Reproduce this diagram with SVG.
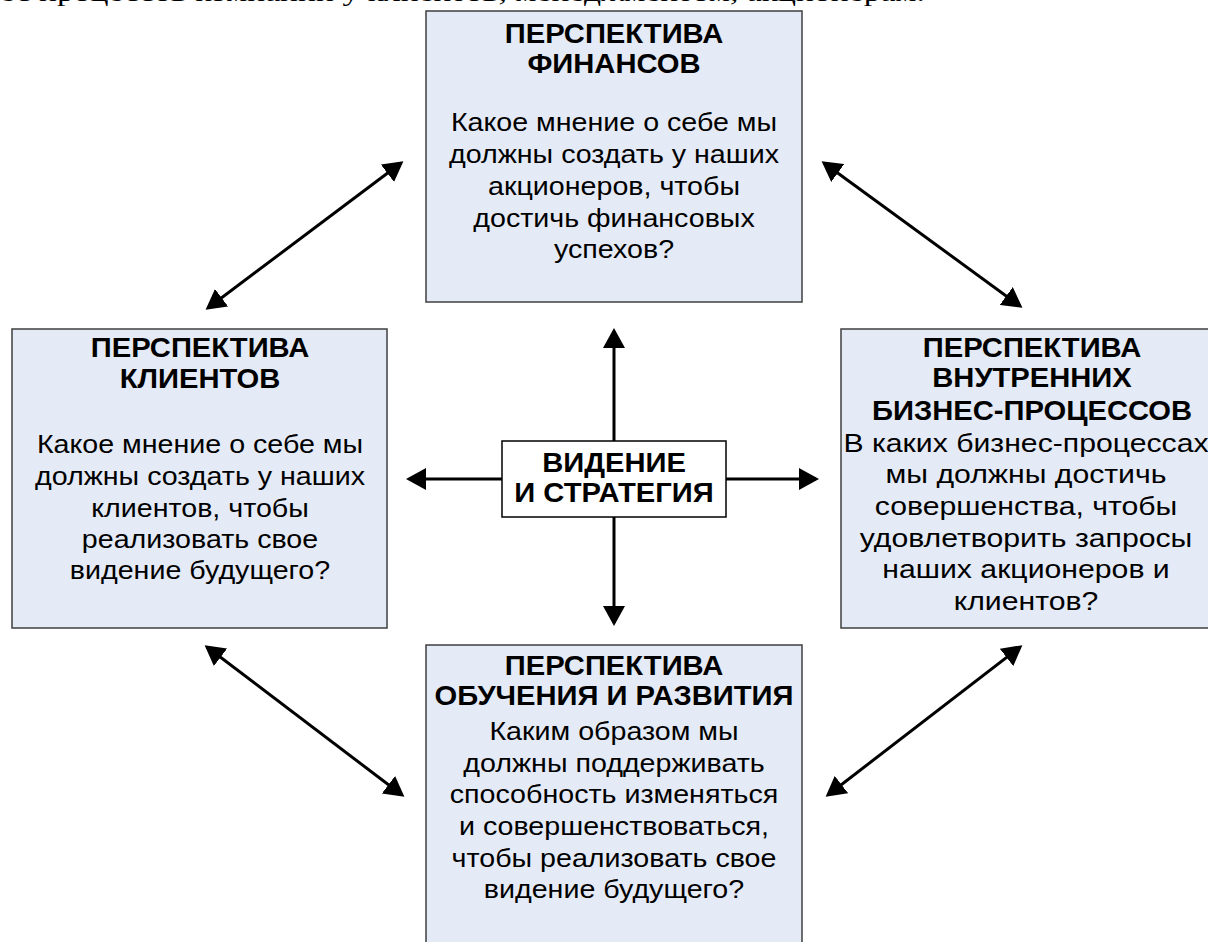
<svg xmlns="http://www.w3.org/2000/svg" width="1208" height="942" viewBox="0 0 1208 942">
  <style>
    .box { fill: #E5EBF6; stroke: #3F3F3F; stroke-width: 1.5; }
    .core { fill: #FFFFFF; stroke: #000000; stroke-width: 1.5; }
    .title { font-family: "Liberation Sans", Arial, sans-serif; font-weight: bold; font-size: 27px; fill: #000; text-anchor: middle; }
    .body { font-family: "Liberation Sans", Arial, sans-serif; font-size: 26.5px; fill: #000; text-anchor: middle; }
    .page { font-family: "Liberation Serif", "Times New Roman", serif; font-size: 25px; fill: #000; }
    .link { stroke: #000; stroke-width: 3; fill: none; marker-start: url(#head); marker-end: url(#head); }
    .ray { stroke: #000; stroke-width: 3; fill: none; marker-end: url(#head); }
  </style>
  <defs>
    <marker id="head" markerUnits="userSpaceOnUse" viewBox="0 0 20 22" refX="17" refY="11" markerWidth="20" markerHeight="22" orient="auto-start-reverse">
      <path d="M0,0 L20,11 L0,22 Z" fill="#000"/>
    </marker>
  </defs>

  <rect width="1208" height="942" fill="#FFFFFF"/>

  <!-- trailing line of the page text above the figure -->
  <text class="page" x="0" y="1" textLength="925" lengthAdjust="spacingAndGlyphs">ес процессов компании у клиентов, менеджментом, акционерам.</text>

  <!-- connectors -->
  <g id="connectors">
    <line class="ray" x1="614" y1="441" x2="614" y2="331"/>
    <line class="ray" x1="614" y1="517" x2="614" y2="623"/>
    <line class="ray" x1="502" y1="479" x2="409" y2="479"/>
    <line class="ray" x1="726" y1="479" x2="816" y2="479"/>
    <line class="link" x1="208" y1="308" x2="401" y2="163"/>
    <line class="link" x1="824" y1="163" x2="1020" y2="306"/>
    <line class="link" x1="207" y1="647" x2="402" y2="795"/>
    <line class="link" x1="1020" y1="647" x2="828" y2="795"/>
  </g>

  <!-- finance perspective -->
  <g id="finance">
    <rect class="box" x="426" y="11" width="376" height="291"/>
    <g transform="translate(614,0) scale(1.08,1)">
      <text class="title" x="0" y="43">ПЕРСПЕКТИВА</text>
      <text class="title" x="0" y="73">ФИНАНСОВ</text>
      <text class="body" x="0" y="131">Какое мнение о себе мы</text>
      <text class="body" x="0" y="163">должны создать у наших</text>
      <text class="body" x="0" y="195">акционеров, чтобы</text>
      <text class="body" x="0" y="227">достичь финансовых</text>
      <text class="body" x="0" y="258">успехов?</text>
    </g>
  </g>

  <!-- customer perspective -->
  <g id="customers">
    <rect class="box" x="12" y="329" width="375" height="299"/>
    <g transform="translate(200,0) scale(1.08,1)">
      <text class="title" x="0" y="357">ПЕРСПЕКТИВА</text>
      <text class="title" x="0" y="388">КЛИЕНТОВ</text>
      <text class="body" x="0" y="453">Какое мнение о себе мы</text>
      <text class="body" x="0" y="485">должны создать у наших</text>
      <text class="body" x="0" y="517">клиентов, чтобы</text>
      <text class="body" x="0" y="548">реализовать свое</text>
      <text class="body" x="0" y="579">видение будущего?</text>
    </g>
  </g>

  <!-- internal business process perspective -->
  <g id="processes">
    <rect class="box" x="841" y="329" width="368" height="299"/>
    <g transform="translate(1032,0) scale(1.08,1)">
      <text class="title" x="0" y="357">ПЕРСПЕКТИВА</text>
      <text class="title" x="0" y="387">ВНУТРЕННИХ</text>
      <text class="title" x="0" y="420">БИЗНЕС-ПРОЦЕССОВ</text>
    </g>
    <g transform="translate(1026,0) scale(1.14,1)">
      <text class="body" x="0" y="452">В каких бизнес-процессах</text>
      <text class="body" x="0" y="483">мы должны достичь</text>
      <text class="body" x="0" y="515">совершенства, чтобы</text>
      <text class="body" x="0" y="547">удовлетворить запросы</text>
      <text class="body" x="0" y="578">наших акционеров и</text>
      <text class="body" x="0" y="610">клиентов?</text>
    </g>
  </g>

  <!-- learning and growth perspective -->
  <g id="learning">
    <rect class="box" x="426" y="645" width="376" height="310"/>
    <g transform="translate(614,0) scale(1.08,1)">
      <text class="title" x="0" y="675">ПЕРСПЕКТИВА</text>
      <text class="title" x="0" y="705">ОБУЧЕНИЯ И РАЗВИТИЯ</text>
      <text class="body" x="0" y="740">Каким образом мы</text>
      <text class="body" x="0" y="772">должны поддерживать</text>
      <text class="body" x="0" y="803">способность изменяться</text>
      <text class="body" x="0" y="835">и совершенствоваться,</text>
      <text class="body" x="0" y="867">чтобы реализовать свое</text>
      <text class="body" x="0" y="898">видение будущего?</text>
    </g>
  </g>

  <!-- vision and strategy -->
  <g id="vision">
    <rect class="core" x="502" y="441" width="224" height="76"/>
    <g transform="translate(614,0) scale(1.08,1)">
      <text class="title" x="0" y="472">ВИДЕНИЕ</text>
      <text class="title" x="0" y="502">И СТРАТЕГИЯ</text>
    </g>
  </g>
</svg>
